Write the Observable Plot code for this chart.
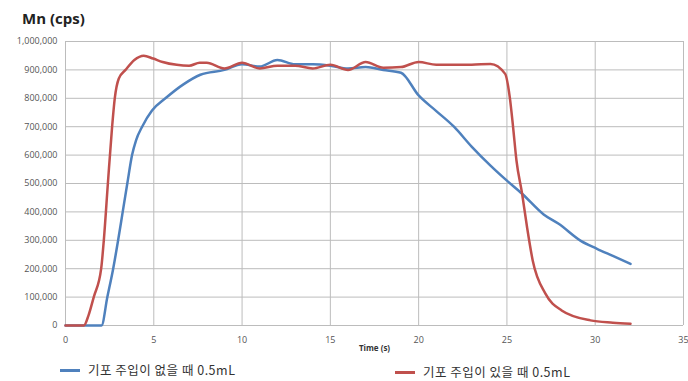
<!DOCTYPE html>
<html>
<head>
<meta charset="utf-8">
<script src="https://cdn.jsdelivr.net/npm/d3@7"></script>
<script src="https://cdn.jsdelivr.net/npm/@observablehq/plot@0.6"></script>
<style>
  body { margin: 0; background: #fff; font-family: "Open Sans", "Noto Sans CJK KR", sans-serif; }
  #wrap { position: relative; width: 688px; height: 381px; overflow: hidden; }
  #title { position: absolute; left: 22px; top: 8px; font: bold 15px "Open Sans", sans-serif; color: #222; }
  #chart { position: absolute; left: 0; top: 32px; }
  .leg { position: absolute; font: 12.5px/14px "Noto Sans CJK KR", sans-serif; height: 14px; color: #333; display: flex; align-items: center; letter-spacing: 0.5px; }
  .leg span.sw { display: inline-block; width: 20px; height: 3px; margin-right: 8px; }
</style>
</head>
<body>
<div id="wrap">
  <div id="title">Mn (cps)</div>
  <div id="chart"></div>
  <div class="leg" id="leg1" style="left:60px; top:363px;"></div>
  <div class="leg" id="leg2" style="left:395px; top:365px;"></div>
</div>
<script>
// Series: time (s) and Mn counts per second
const seriesNames = ["기포 주입이 없을 때 0.5mL", "기포 주입이 있을 때 0.5mL"];
const seriesColors = ["#4F81BD", "#C0504D"];

const noBubbleTime = [0, 1, 2.04, 2.37, 2.7, 2.98, 3.24, 3.5, 3.77, 4.0, 4.34, 4.9, 5.66, 6.7, 7.64, 9, 10, 11, 12, 13, 14, 15, 16, 17, 18, 19, 20, 21, 22, 23, 24.07, 25, 25.86, 27.08, 27.93, 29.16, 30.1, 31, 32];
const noBubbleMn   = [0, 0, 0, 100000, 200000, 300000, 400000, 500000, 600000, 653000, 700000, 757000, 800000, 850000, 883000, 900000, 920000, 912000, 935000, 920000, 920000, 915000, 905000, 910000, 900000, 890000, 810000, 755000, 700000, 630000, 563000, 510000, 464000, 391000, 358000, 299000, 270000, 245000, 217000];

const bubbleTime = [0, 1.04, 1.3, 1.6, 2.02, 2.17, 2.4, 2.64, 2.79, 3.02, 3.4, 3.9, 4.43, 4.96, 5.5, 6.3, 7, 7.6, 8, 9, 10, 11, 12, 13, 14, 15, 16, 17, 18, 19, 20, 21, 22, 23, 24.07, 24.9, 25.16, 25.35, 25.54, 25.86, 26.14, 26.46, 27.18, 28.1, 29.73, 31, 32];
const bubbleMn   = [0, 0, 35000, 100000, 200000, 300000, 500000, 700000, 800000, 870000, 900000, 935000, 950000, 940000, 928000, 918000, 915000, 925000, 925000, 905000, 925000, 905000, 915000, 915000, 905000, 918000, 900000, 928000, 908000, 910000, 928000, 918000, 918000, 918000, 921000, 886000, 804000, 698000, 581000, 464000, 346000, 229000, 112000, 53000, 18000, 10000, 6000];

const xTicks = d3.range(0, 36, 5);
const yTicks = d3.range(0, 1000001, 100000);

const rows = [
  ...noBubbleTime.map((t, i) => ({t, v: noBubbleMn[i], s: seriesNames[0]})),
  ...bubbleTime.map((t, i) => ({t, v: bubbleMn[i], s: seriesNames[1]}))
];

const gridColor = "#bcbcbc";

const plot = Plot.plot({
  width: 688,
  height: 330,
  marginTop: 9,
  marginLeft: 65,
  marginRight: 5,
  marginBottom: 37,
  style: { fontFamily: "Open Sans, sans-serif", fontSize: "9px", color: "#555", overflow: "visible" },
  x: { domain: [0, 35], label: null },
  y: { domain: [0, 1000000], label: null },
  color: { domain: seriesNames, range: seriesColors },
  marks: [
    Plot.ruleX(xTicks, { stroke: gridColor, strokeWidth: 1 }),
    Plot.ruleY(yTicks, { stroke: gridColor, strokeWidth: 1 }),
    Plot.axisX({ ticks: xTicks, tickSize: 0, tickPadding: 11, fill: "#555" }),
    Plot.axisY({ ticks: yTicks, tickSize: 0, tickPadding: 8, fill: "#555", tickFormat: d => d3.format(",")(d) }),
    Plot.text(["Time (s)"], { frameAnchor: "bottom", x: 17.5, dy: 25, fontWeight: "bold", fontSize: 8, fill: "#333" }),
    Plot.line(rows, { x: "t", y: "v", z: "s", stroke: "s", strokeWidth: 2.5, curve: "monotone-x" })
  ]
});
document.getElementById("chart").appendChild(plot);

// Legend entries
["leg1", "leg2"].forEach((id, i) => {
  const el = document.getElementById(id);
  el.innerHTML = `<span class="sw" style="background:${seriesColors[i]}"></span>${seriesNames[i]}`;
});
</script>
</body>
</html>
